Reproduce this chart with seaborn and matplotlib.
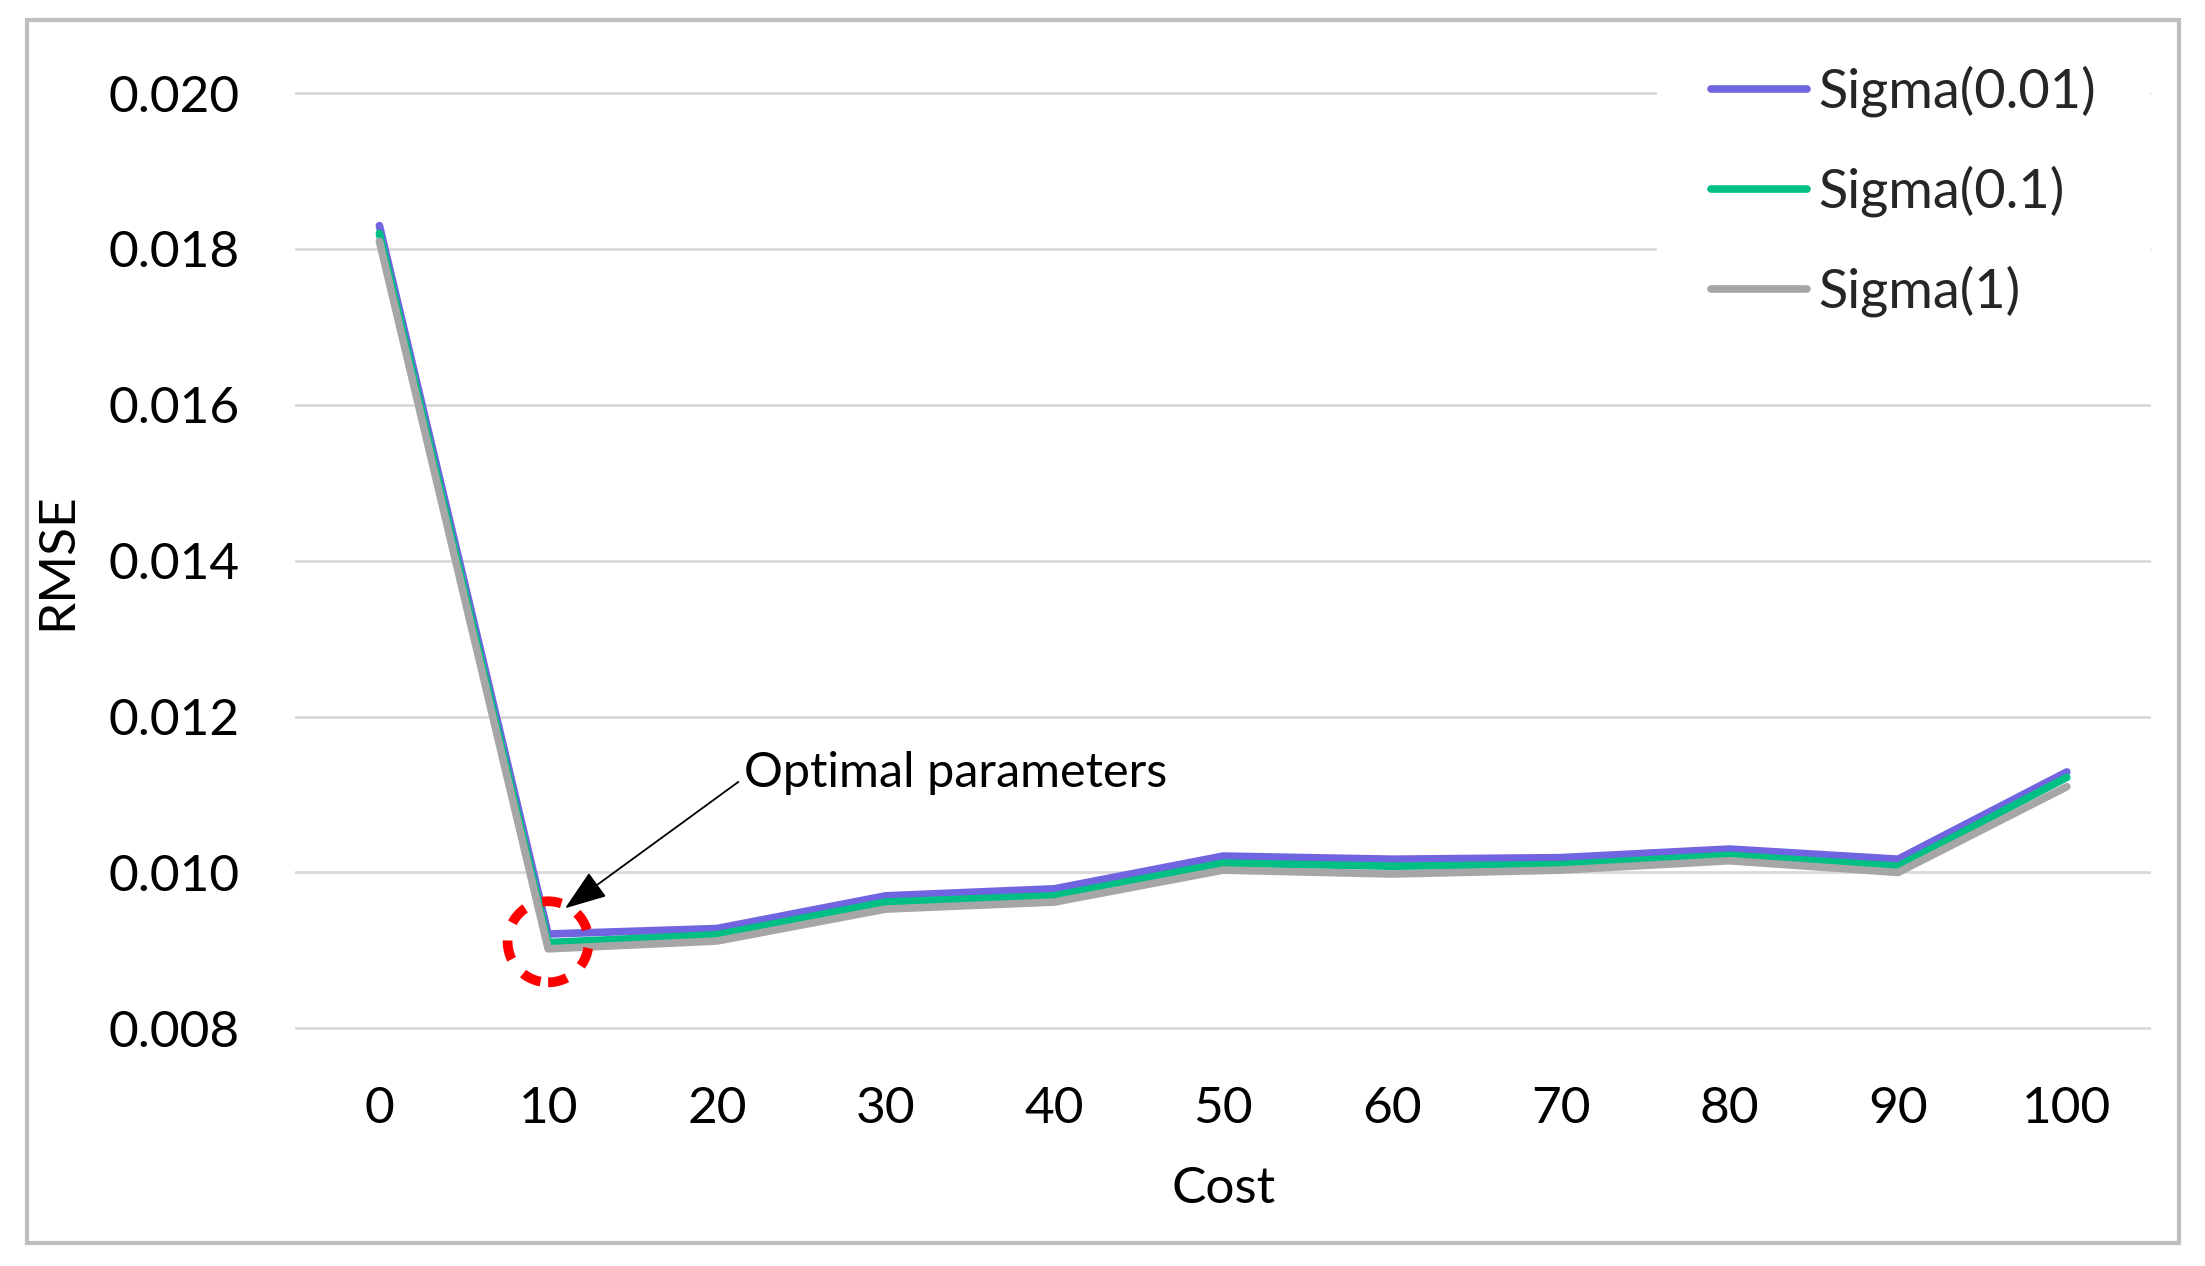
import numpy as np
import pandas as pd
import matplotlib.pyplot as plt
import seaborn as sns
from matplotlib.patches import Ellipse, Rectangle

# values
cost = [0, 10, 20, 30, 40, 50, 60, 70, 80, 90, 100]
sigma_001 = [0.0183, 0.00921, 0.00928, 0.00970, 0.00979, 0.01021, 0.01017, 0.01019, 0.01030, 0.01017, 0.01129]
sigma_01 = [0.0182, 0.00910, 0.00920, 0.00962, 0.00970, 0.01012, 0.01008, 0.01010, 0.01022, 0.01008, 0.01122]
sigma_1 = [0.0181, 0.00902, 0.00912, 0.00953, 0.00962, 0.01003, 0.00998, 0.01003, 0.01015, 0.01000, 0.01110]
series_names = ["Sigma(0.01)", "Sigma(0.1)", "Sigma(1)"]
series_colors = ["#7064E0", "#00BF84", "#A6A6A6"]
y_ticks = [0.008, 0.010, 0.012, 0.014, 0.016, 0.018, 0.020]

df = pd.DataFrame({"Cost": cost, series_names[0]: sigma_001,
                   series_names[1]: sigma_01, series_names[2]: sigma_1})
long_df = df.melt(id_vars="Cost", var_name="Series", value_name="RMSE")

sns.set_theme(style="white")
plt.rcParams["font.family"] = ["Lato", "DejaVu Sans"]
fs = 37

fig = plt.figure(figsize=(22.05, 12.66), dpi=100)
ax = fig.add_axes([0.1338, 0.1859, 0.8418, 0.7424])

sns.lineplot(data=long_df, x="Cost", y="RMSE", hue="Series", hue_order=series_names,
             palette=dict(zip(series_names, series_colors)), linewidth=5.5,
             solid_joinstyle="round", solid_capstyle="round", ax=ax)

ax.set_xlim(-5, 105)
ax.set_ylim(0.00797, 0.02003)
ax.set_xticks(cost)
ax.set_xticklabels([str(c) for c in cost])
ax.set_yticks(y_ticks)
ax.set_yticklabels([f"{v:.3f}" for v in y_ticks])
ax.tick_params(axis="both", length=0, pad=40, labelsize=fs, labelcolor="black")
ax.yaxis.grid(True, color="#D9D9D9", linewidth=2)
ax.xaxis.grid(False)
for s in ax.spines.values():
    s.set_visible(False)

ax.set_xlabel("Cost", fontsize=fs, labelpad=24, color="black")
ax.set_ylabel("RMSE", fontsize=fs, labelpad=20, color="black")

# legend top right, white box hides the gridlines behind it
handles, labels = ax.get_legend_handles_labels()
ax.legend(handles, labels, loc="upper left", bbox_to_anchor=(0.7516, 0.991),
          bbox_transform=fig.transFigure, borderaxespad=0, borderpad=1.0,
          frameon=True, facecolor="white", edgecolor="none", framealpha=1,
          fontsize=39, handlelength=1.77, handletextpad=0.2, labelspacing=0.89)

# optimal point marker
best = int(np.argmin(sigma_1))
cx = cost[best]
cy = (sigma_001[best] + sigma_01[best] + sigma_1[best]) / 3
ax.add_patch(Ellipse((cx, cy), width=4.8, height=0.00104, fill=False, edgecolor="red",
                     linewidth=7, linestyle=(0, (2.0, 1.9)), zorder=5))
ax.annotate("Optimal parameters", xy=(cx + 1.0, cy + 0.00043), xytext=(cx + 11.6, cy + 0.00216),
            ha="left", va="center", fontsize=35, color="black",
            arrowprops=dict(arrowstyle="-|>,head_length=0.75,head_width=0.27", color="black",
                            lw=1.3, shrinkA=2, shrinkB=0, relpos=(0, 0.4)))

fig.add_artist(Rectangle((0.0122, 0.0179), 0.9762, 0.9664, transform=fig.transFigure,
                         fill=False, edgecolor="#BFBFBF", linewidth=3, zorder=10))

fig.savefig("out.png", dpi=100)
